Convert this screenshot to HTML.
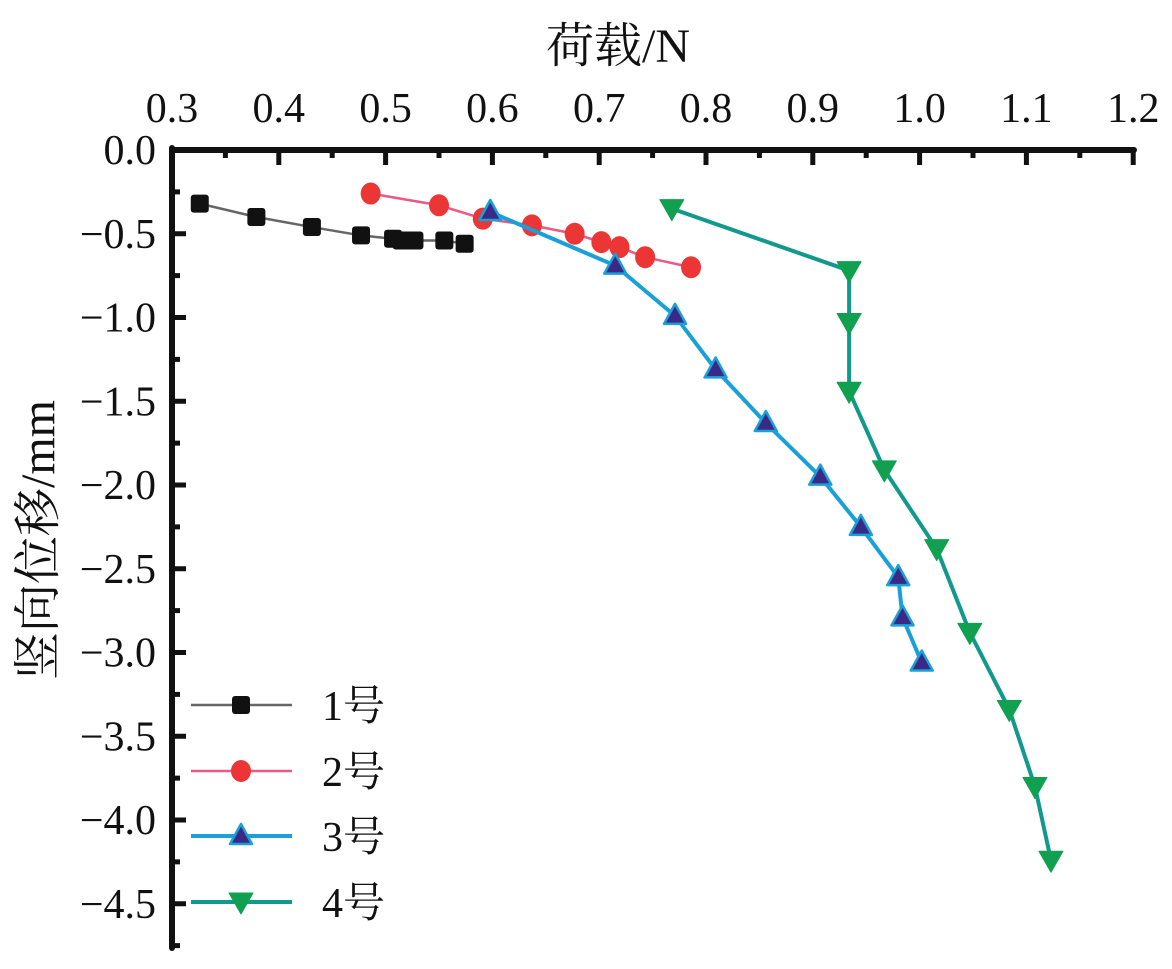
<!DOCTYPE html>
<html><head><meta charset="utf-8"><style>
body{margin:0;background:#fff;}
svg text{font-family:"Liberation Serif","Noto Serif CJK SC",serif;fill:#111;}
</style></head><body>
<svg id="chart" width="1172" height="964" viewBox="0 0 1172 964" xmlns="http://www.w3.org/2000/svg">
<g id="axes"></g><g id="series"></g><g id="legend"></g>
</svg>
<script>
const xTicks=[0.3,0.4,0.5,0.6,0.7,0.8,0.9,1.0,1.1,1.2];
const yTicks=[0,-0.5,-1,-1.5,-2,-2.5,-3,-3.5,-4,-4.5];
const names=["1号","2号","3号","4号"];
const s1x=[0.326,0.379,0.431,0.477,0.507,0.515,0.527,0.555,0.574];
const s1y=[-0.32,-0.40,-0.46,-0.51,-0.53,-0.54,-0.54,-0.54,-0.56];
const s2x=[0.486,0.550,0.591,0.637,0.677,0.702,0.719,0.743,0.786];
const s2y=[-0.26,-0.33,-0.41,-0.45,-0.50,-0.55,-0.58,-0.64,-0.70];
const s3x=[0.598,0.715,0.771,0.809,0.856,0.907,0.945,0.980,0.984,1.002];
const s3y=[-0.37,-0.69,-0.99,-1.31,-1.63,-1.95,-2.25,-2.55,-2.79,-3.06];
const s4x=[0.768,0.934,0.934,0.934,0.967,1.016,1.047,1.084,1.108,1.123];
const s4y=[-0.35,-0.72,-1.03,-1.44,-1.91,-2.38,-2.88,-3.34,-3.80,-4.24];

const NS="http://www.w3.org/2000/svg";
const X=v=>172+(v-0.3)*1068;
const Y=v=>150-v*167.5;
function mk(tag,attrs,parent){const e=document.createElementNS(NS,tag);for(const k in attrs)e.setAttribute(k,attrs[k]);parent.appendChild(e);return e;}
const axes=document.getElementById('axes');
let e;
e=mk('line',{x1:172,y1:148,x2:172,y2:948,stroke:'#111','stroke-width':6,'stroke-linecap':'round'},axes);

e=mk('line',{x1:172,y1:150,x2:1134,y2:150,stroke:'#111','stroke-width':6,'stroke-linecap':'round'},axes);

xTicks.forEach((v,i)=>{
  e=mk('line',{x1:X(v),y1:150,x2:X(v),y2:165,stroke:'#111','stroke-width':5},axes);
  
  if(i<xTicks.length-1){e=mk('line',{x1:X(v+0.05),y1:150,x2:X(v+0.05),y2:158,stroke:'#111','stroke-width':5},axes);
  }
  e=mk('text',{x:X(v),y:122,'font-size':42,'text-anchor':'middle'},axes);e.textContent=v.toFixed(1);
  
});
yTicks.forEach((v,i)=>{
  e=mk('line',{x1:172,y1:Y(v),x2:186,y2:Y(v),stroke:'#111','stroke-width':5},axes);
  
  e=mk('line',{x1:172,y1:Y(v-0.25),x2:180,y2:Y(v-0.25),stroke:'#111','stroke-width':5},axes);
  
  e=mk('text',{x:156,y:Y(v)+14,'font-size':42,'text-anchor':'end'},axes);e.textContent=(v<0?'−':'')+Math.abs(v).toFixed(1);
  
});
e=mk('text',{x:618,y:62,'font-size':48,'text-anchor':'middle'},axes);e.textContent='荷载/N';

e=mk('text',{x:0,y:0,'font-size':48,'text-anchor':'middle',transform:'translate(54,540) rotate(-90)'},axes);e.textContent='竖向位移/mm';


const styles=[
 {line:'#666',w:2.5,shape:'square',fill:'#111',stroke:'#111'},
 {line:'#ea5a86',w:2.5,shape:'circle',fill:'#ec3535',stroke:'#ec3535'},
 {line:'#1aa0d8',w:4,shape:'up',fill:'#3a2a86',stroke:'#1aa0d8'},
 {line:'#10998c',w:4,shape:'down',fill:'#10a050',stroke:'#10a050'}];
function marker(g,shape,cx,cy,st){
  if(shape==='square')return mk('rect',{x:cx-9,y:cy-9,width:18,height:18,rx:3,fill:st.fill},g);
  if(shape==='circle')return mk('ellipse',{cx:cx,cy:cy,rx:10,ry:11,fill:st.fill},g);
  if(shape==='up')return mk('polygon',{points:`${cx},${cy-12} ${cx-11},${cy+8} ${cx+11},${cy+8}`,fill:st.fill,stroke:st.stroke,'stroke-width':2.5,'stroke-linejoin':'round'},g);
  return mk('polygon',{points:`${cx-12},${cy-9} ${cx+12},${cy-9} ${cx},${cy+12}`,fill:st.fill,stroke:st.stroke,'stroke-width':1,'stroke-linejoin':'round'},g);
}
const data=[[s1x,s1y],[s2x,s2y],[s3x,s3y],[s4x,s4y]];
const sg=document.getElementById('series');
data.forEach((d,si)=>{
  const st=styles[si];
  const g=mk('g',{},sg);
  
  
  const pts=d[0].map((v,i)=>X(v)+','+Y(d[1][i])).join(' ');
  e=mk('polyline',{points:pts,fill:'none',stroke:st.line,'stroke-width':st.w},g);
  
  d[0].forEach((v,i)=>{
    e=marker(g,st.shape,X(v),Y(d[1][i]),st);
    
    
  });
});
const lg=document.getElementById('legend');
const ly=[705,771,836,902];
names.forEach((n,i)=>{
  const st=styles[i];
  const g=mk('g',{},lg);
  
  
  mk('line',{x1:191,y1:ly[i],x2:292,y2:ly[i],stroke:st.line,'stroke-width':st.w},g);
  marker(g,st.shape,241,ly[i],st);
  e=mk('text',{x:322,y:ly[i]+15,'font-size':42},g);e.textContent=n;
  
});
</script>
</body></html>
